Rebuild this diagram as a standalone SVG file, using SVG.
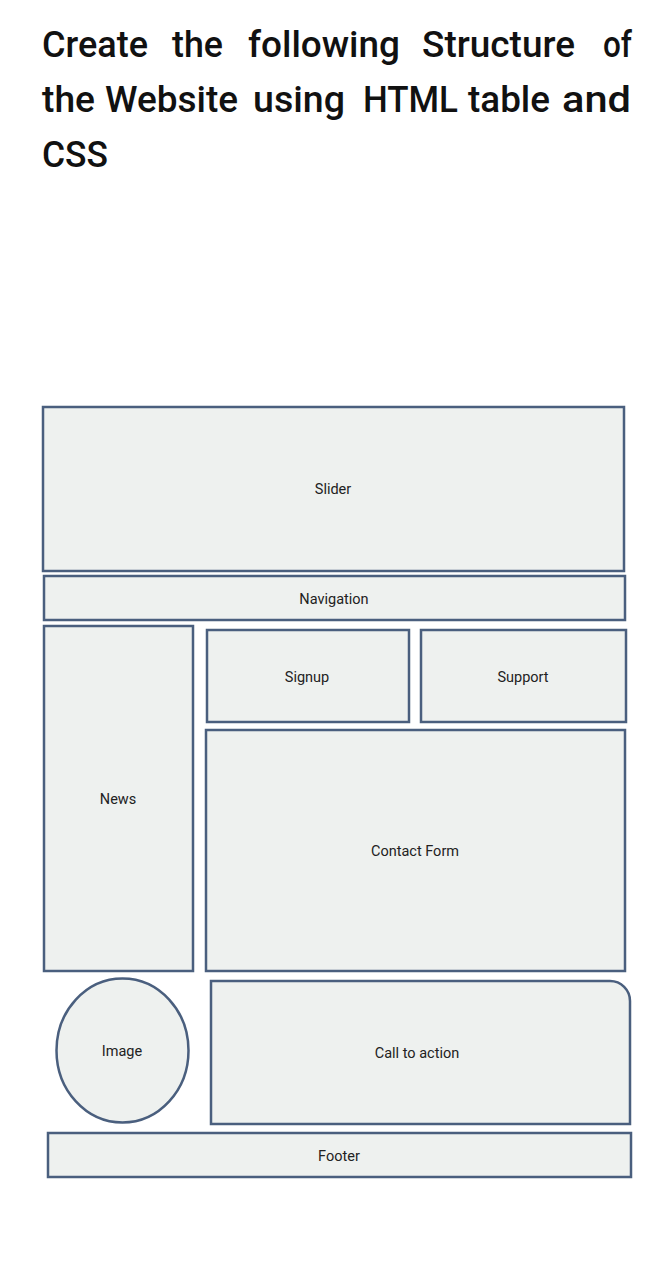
<svg xmlns="http://www.w3.org/2000/svg" width="671" height="1280" viewBox="0 0 671 1280">
<style>
.title{font-family:Roboto,"Liberation Sans",sans-serif;font-size:36px;fill:#111;font-weight:500}
.box{fill:#eef1ef;stroke:#4a5f7e;stroke-width:2.5}
.lbl{font-family:Roboto,"Liberation Sans",sans-serif;font-size:14.5px;fill:#222;text-anchor:middle;dominant-baseline:central}
</style>
<rect width="671" height="1280" fill="#ffffff"/>
<g id="title" class="title">
<text x="42" y="57" textLength="106" lengthAdjust="spacingAndGlyphs">Create</text>
<text x="172" y="57" textLength="51" lengthAdjust="spacingAndGlyphs">the</text>
<text x="248" y="57" textLength="152" lengthAdjust="spacingAndGlyphs">following</text>
<text x="422" y="57" textLength="153" lengthAdjust="spacingAndGlyphs">Structure</text>
<text x="603" y="57" textLength="29" lengthAdjust="spacingAndGlyphs">of</text>
<text x="42" y="112" textLength="53" lengthAdjust="spacingAndGlyphs">the</text>
<text x="105" y="112" textLength="133" lengthAdjust="spacingAndGlyphs">Website</text>
<text x="253" y="112" textLength="92" lengthAdjust="spacingAndGlyphs">using</text>
<text x="363" y="112" textLength="95" lengthAdjust="spacingAndGlyphs">HTML</text>
<text x="468" y="112" textLength="82" lengthAdjust="spacingAndGlyphs">table</text>
<text x="562" y="112" textLength="69" lengthAdjust="spacingAndGlyphs">and</text>
<text x="42" y="167" textLength="66" lengthAdjust="spacingAndGlyphs">CSS</text>
</g>
<g id="connectors"></g>
<g id="slider"><rect class="box" x="43" y="407" width="581" height="164"/><text class="lbl" x="333" y="489">Slider</text></g>
<g id="navigation"><rect class="box" x="44" y="576" width="581" height="44"/><text class="lbl" x="334" y="599">Navigation</text></g>
<g id="news"><rect class="box" x="44" y="626" width="149" height="345"/><text class="lbl" x="118" y="799">News</text></g>
<g id="signup"><rect class="box" x="207" y="630" width="202" height="92"/><text class="lbl" x="307" y="677">Signup</text></g>
<g id="support"><rect class="box" x="421" y="630" width="205" height="92"/><text class="lbl" x="523" y="677">Support</text></g>
<g id="contact"><rect class="box" x="206" y="730" width="419" height="241"/><text class="lbl" x="415" y="851">Contact Form</text></g>
<g id="image"><ellipse class="box" cx="122.5" cy="1050.5" rx="66" ry="72"/><text class="lbl" x="122" y="1051">Image</text></g>
<g id="cta"><path class="box" d="M211,981 H610 A20,20 0 0 1 630,1001 V1124 H211 Z"/><text class="lbl" x="417" y="1053">Call to action</text></g>
<g id="footer"><rect class="box" x="48" y="1133" width="583" height="44"/><text class="lbl" x="339" y="1156">Footer</text></g>
</svg>
